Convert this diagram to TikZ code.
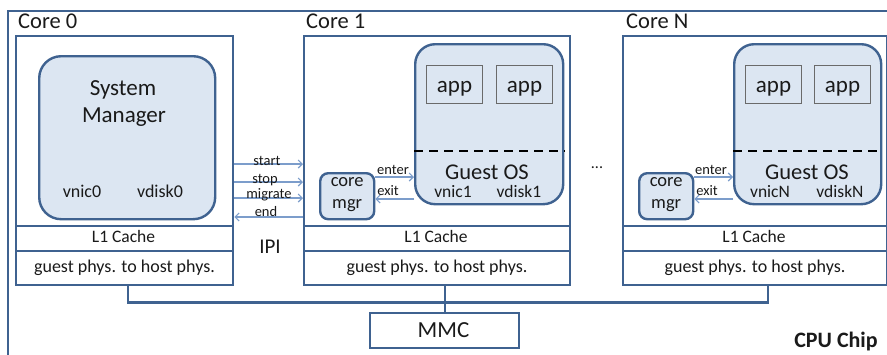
\documentclass[tikz,border=0pt]{standalone}
\usepackage{fontspec}
\setmainfont{Carlito}
\usetikzlibrary{arrows.meta,calc}
\definecolor{edgeb}{HTML}{3F6290}
\definecolor{fillb}{HTML}{DCE6F2}
\definecolor{arrb}{HTML}{7C9DCB}
\definecolor{appedge}{HTML}{6A6A6A}
\definecolor{txt}{HTML}{1A1A1A}
\tikzset{
  fs/.style={font=\fontsize{#1}{#1}\selectfont},
  corebox/.style={draw=edgeb, line width=2.4pt, anchor=north west, inner sep=0pt},
  cell/.style={draw=edgeb, line width=2pt, anchor=north west, inner sep=0pt, text depth=0pt},
  rbox/.style={draw=edgeb, fill=fillb, line width=2.4pt, rounded corners=#1, anchor=north west, inner sep=0pt},
  appbox/.style={draw=appedge, fill=fillb, line width=1pt, anchor=north west, inner sep=0pt, minimum width=56pt, minimum height=38pt},
  lbl/.style={inner sep=0pt, anchor=base, text=txt, fs=#1},
  lbll/.style={inner sep=0pt, anchor=base west, text=txt, fs=#1},
  sig/.style={draw=arrb, line width=1.1pt, -{Straight Barb[length=4pt,width=8pt]}},
  bus/.style={draw=edgeb, line width=2.4pt},
  sep/.style={draw=black, line width=2pt, dash pattern=on 9pt off 6pt},
}
\begin{document}
\begin{tikzpicture}[x=1pt,y=-1pt]
\useasboundingbox (0,0) rectangle (887,354);
\clip (0,0) rectangle (887,354);
\fill[white] (0,0) rectangle (887,354);
% chip
\node[corebox, minimum width=900pt, minimum height=370pt] (chip) at (7,10) {};
\node[lbl=22, font=\fontsize{22}{22}\selectfont\bfseries] (chiplbl) at (836,347) {CPU Chip};

% ---------------- Core 0
\node[lbll=22.5] (c0lbl) at (18,28) {Core 0};
\node[corebox, minimum width=217pt, minimum height=249pt] (core0) at (15,35) {};
\node[cell, minimum width=217pt, minimum height=25pt] (l1a) at (15,225) {};
\node[cell, minimum width=217pt, minimum height=34pt] (gpa) at (15,250) {};
\node[lbl=17.5] (l1at) at (123.5,242) {L1 Cache};
\node[lbl=18] (gpat) at (124.5,272) {guest phys. to host phys.};
\node[rbox=22pt, minimum width=176pt, minimum height=163pt] (sm) at (38,55) {};
\node[lbl=23] (smt1) at (123,95) {System};
\node[lbl=23] (smt2) at (124,122) {Manager};
\node[lbl=18] (vnic0) at (82,197) {vnic0};
\node[lbl=18] (vdisk0) at (160,197) {vdisk0};

% ---------------- Core 1
\node[lbll=22.5] (c1lbl) at (306,28) {Core 1};
\node[corebox, minimum width=266pt, minimum height=249pt] (core1) at (303,35) {};
\node[cell, minimum width=266pt, minimum height=25pt] (l1b) at (303,225) {};
\node[cell, minimum width=266pt, minimum height=34pt] (gpb) at (303,250) {};
\node[lbl=17.5] (l1bt) at (436,242) {L1 Cache};
\node[lbl=18] (gpbt) at (437,272) {guest phys. to host phys.};
\node[rbox=20pt, minimum width=148pt, minimum height=160pt] (gos1) at (414,43) {};
\draw[sep] (gos1.west |- 0,151) -- (gos1.east |- 0,151);
\node[appbox] (app1a) at (426,65) {};
\node[appbox] (app1b) at (496,65) {};
\node[lbl=23] at (app1a.center |- 0,92) {app};
\node[lbl=23] at (app1b.center |- 0,92) {app};
\node[lbl=22.5] (gos1t) at (487,179) {Guest OS};
\node[lbl=17.5] (vnic1) at (453,197) {vnic1};
\node[lbl=17.5] (vdisk1) at (519,197) {vdisk1};
\node[rbox=8pt, minimum width=54pt, minimum height=46pt] (cm1) at (319,172) {};
\node[lbl=18.5] (cm1a) at (cm1.center |- 0,186) {core};
\node[lbl=18.5] (cm1b) at (cm1.center |- 0,208) {mgr};
\draw[sig] (cm1.east |- 0,177) -- (gos1.west |- 0,177);
\draw[sig] (gos1.west |- 0,199) -- (cm1.east |- 0,199);
\node[lbl=14.5] (enter1) at (393,174) {enter};
\node[lbl=14.5] (exit1) at (388,195) {exit};

% ---------------- Core N
\node[lbll=22.5] (cnlbl) at (626,28) {Core N};
\node[corebox, minimum width=264pt, minimum height=249pt] (coreN) at (622,35) {};
\node[cell, minimum width=264pt, minimum height=25pt] (l1n) at (622,225) {};
\node[cell, minimum width=264pt, minimum height=34pt] (gpn) at (622,250) {};
\node[lbl=17.5] (l1nt) at (754,242) {L1 Cache};
\node[lbl=18] (gpnt) at (755,272) {guest phys. to host phys.};
\node[rbox=20pt, minimum width=147pt, minimum height=160pt] (gosN) at (733,43) {};
\draw[sep] (gosN.west |- 0,151) -- (gosN.east |- 0,151);
\node[appbox] (appNa) at (745,65) {};
\node[appbox] (appNb) at (814,65) {};
\node[lbl=23] at (appNa.center |- 0,92) {app};
\node[lbl=23] at (appNb.center |- 0,92) {app};
\node[lbl=22.5] (gosNt) at (807,179) {Guest OS};
\node[lbl=17.5] (vnicN) at (770,197) {vnicN};
\node[lbl=17.5] (vdiskN) at (840,197) {vdiskN};
\node[rbox=8pt, minimum width=54pt, minimum height=46pt] (cmN) at (638,172) {};
\node[lbl=18.5] (cmNa) at (cmN.center |- 0,186) {core};
\node[lbl=18.5] (cmNb) at (cmN.center |- 0,208) {mgr};
\draw[sig] (cmN.east |- 0,177) -- (gosN.west |- 0,177);
\draw[sig] (gosN.west |- 0,199) -- (cmN.east |- 0,199);
\node[lbl=14.5] (enterN) at (711,174) {enter};
\node[lbl=14.5] (exitN) at (707,195) {exit};

\node[lbl=16] (dots) at (597,168) {...};

% ---------------- IPI signals
\draw[sig] (core0.east |- 0,164) -- (core1.west |- 0,164);
\draw[sig] (core0.east |- 0,182) -- (core1.west |- 0,182);
\draw[sig] (core0.east |- 0,198) -- (core1.west |- 0,198);
\draw[sig] (core1.west |- 0,217) -- (core0.east |- 0,217);
\node[lbl=14.5] (start) at (267,165) {start};
\node[lbl=14.5] (stop) at (265,183) {stop};
\node[lbl=14.5] (migrate) at (269,198) {migrate};
\node[lbl=14.5] (end) at (266,216) {end};
\node[lbl=21] (ipi) at (270,253) {IPI};

% ---------------- bus and MMC
\node[corebox, minimum width=149pt, minimum height=35pt] (mmc) at (369,312) {};
\node[lbl=23] (mmct) at (443.5,337) {MMC};
\draw[bus] ([xshift=3.5pt]core0.south) -- ++(0,16) -| ([xshift=13pt]coreN.south);
\draw[bus] (mmc.north) -- (mmc.north |- core1.south);
\end{tikzpicture}
\end{document}
